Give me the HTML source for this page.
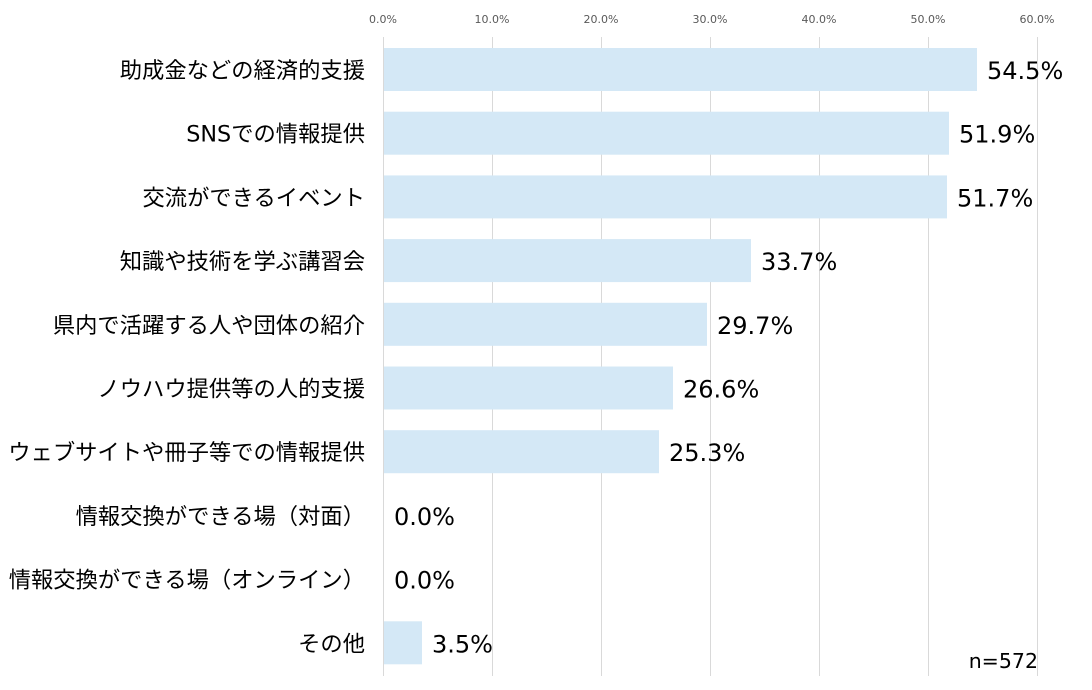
<!DOCTYPE html><html><head><meta charset="utf-8"><style>body{margin:0;background:#fff}svg{display:block}</style></head><body>
<svg width="1092" height="690" xmlns="http://www.w3.org/2000/svg" font-family="'DejaVu Sans','Noto Sans CJK JP',sans-serif">
<g stroke="#d9d9d9" stroke-width="1">
<line x1="383.5" y1="37" x2="383.5" y2="676"/><line x1="492.5" y1="37" x2="492.5" y2="676"/><line x1="601.5" y1="37" x2="601.5" y2="676"/><line x1="710.5" y1="37" x2="710.5" y2="676"/><line x1="819.5" y1="37" x2="819.5" y2="676"/><line x1="928.5" y1="37" x2="928.5" y2="676"/><line x1="1037.5" y1="37" x2="1037.5" y2="676"/>
</g>
<g font-size="11" fill="#595959" text-anchor="middle">
<text x="383" y="23">0.0%</text><text x="492" y="23">10.0%</text><text x="601" y="23">20.0%</text><text x="710" y="23">30.0%</text><text x="819" y="23">40.0%</text><text x="928" y="23">50.0%</text><text x="1037" y="23">60.0%</text>
</g>
<g fill="#d4e8f6">
<rect x="384" y="48" width="593" height="43"/>
<rect x="384" y="111.7" width="565" height="43"/>
<rect x="384" y="175.4" width="563" height="43"/>
<rect x="384" y="239.1" width="367" height="43"/>
<rect x="384" y="302.8" width="323" height="43"/>
<rect x="384" y="366.5" width="289" height="43"/>
<rect x="384" y="430.2" width="275" height="43"/>
<rect x="384" y="621.3" width="38" height="43"/>
</g>
<g font-size="22.3" fill="#000" text-anchor="end">
<text x="365" y="78">助成金などの経済的支援</text>
<text x="365" y="141.7">SNSでの情報提供</text>
<text x="365" y="205.4">交流ができるイベント</text>
<text x="365" y="269.1">知識や技術を学ぶ講習会</text>
<text x="365" y="332.8">県内で活躍する人や団体の紹介</text>
<text x="365" y="396.5">ノウハウ提供等の人的支援</text>
<text x="365" y="460.2">ウェブサイトや冊子等での情報提供</text>
<text x="365" y="523.9">情報交換ができる場（対面）</text>
<text x="365" y="587.6">情報交換ができる場（オンライン）</text>
<text x="365" y="651.3">その他</text>
</g>
<g font-size="24" fill="#000">
<text x="987" y="79">54.5%</text>
<text x="959" y="142.7">51.9%</text>
<text x="957" y="206.4">51.7%</text>
<text x="761" y="270.1">33.7%</text>
<text x="717" y="333.8">29.7%</text>
<text x="683" y="397.5">26.6%</text>
<text x="669" y="461.2">25.3%</text>
<text x="394" y="524.9">0.0%</text>
<text x="394" y="588.6">0.0%</text>
<text x="432" y="652.3">3.5%</text>
</g>
<text x="1038" y="668" font-size="20.5" text-anchor="end" fill="#000">n=572</text>
</svg></body></html>
